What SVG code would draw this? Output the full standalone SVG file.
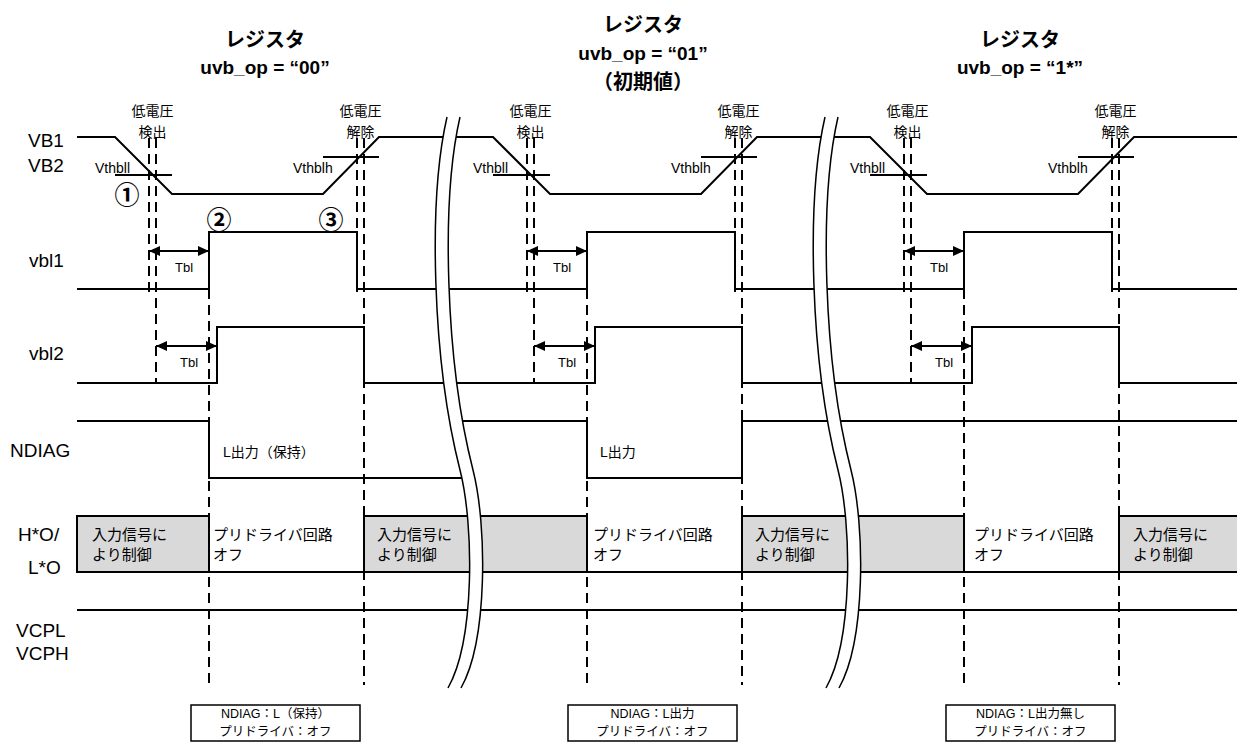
<svg xmlns="http://www.w3.org/2000/svg" width="1237" height="743" viewBox="0 0 1237 743">
<style>
.w{fill:none;stroke:#000;stroke-width:2}
.d{fill:none;stroke:#000;stroke-width:2;stroke-dasharray:10 6}
.g{fill:#d9d9d9;stroke:#000;stroke-width:2}
.t{font-family:"Liberation Sans","Noto Sans CJK JP",sans-serif;fill:#000}
.lab{font-size:19px}
.ttl{font-size:19px;font-weight:bold;text-anchor:middle}
.ev{font-size:14px;text-anchor:middle}
.vt{font-size:14px}
.tb{font-size:13px;text-anchor:middle}
.tx{font-size:15px}
.bx{font-size:12.5px;text-anchor:middle}
.cn{font-family:"Noto Sans CJK JP",sans-serif;font-size:25px;font-weight:bold;text-anchor:middle}
.brk{fill:#fff;stroke:none}
.bc{fill:none;stroke:#000;stroke-width:1.5}
</style>
<defs>
<marker id="ah" markerUnits="userSpaceOnUse" markerWidth="11" markerHeight="10" refX="11" refY="5" orient="auto-start-reverse" viewBox="0 0 11 10">
<path d="M0,0 L11,5 L0,10 Z" fill="#000"/>
</marker>
<g id="dash">
<path class="d" d="M149,138 V297 M156,138 V383 M209,289 V685 M357,138 V297 M364,138 V685"/>
</g>
<g id="brk">
<path class="brk" d="M447,117 C428,200 432,360 460,470 C474,525 475,640 448,688 L461,688 C488,640 487,525 473,470 C445,360 441,200 460,117 Z"/>
<path class="bc" d="M447,117 C428,200 432,360 460,470 C474,525 475,640 448,688"/>
<path class="bc" d="M460,117 C441,200 445,360 473,470 C487,525 488,640 461,688"/>
</g>
</defs>

<g id="signal-labels" class="t lab">
<text x="28" y="147">VB1</text>
<text x="28" y="172">VB2</text>
<text x="29" y="267">vbl1</text>
<text x="29" y="360">vbl2</text>
<text x="10" y="457">NDIAG</text>
<text x="18" y="541">H*O/</text>
<text x="28" y="574">L*O</text>
<text x="16" y="637">VCPL</text>
<text x="16" y="660">VCPH</text>
</g>

<g id="titles" class="t ttl">
<text x="265" y="47" font-size="20">レジスタ</text>
<text x="265" y="74">uvb_op = “00”</text>
<text x="643" y="32" font-size="20">レジスタ</text>
<text x="643" y="60">uvb_op = “01”</text>
<text x="643" y="89" font-size="20">（初期値）</text>
<text x="1020" y="47" font-size="20">レジスタ</text>
<text x="1020" y="74">uvb_op = “1*”</text>
</g>

<g id="gray-boxes">
<rect class="g" x="77" y="516" width="132" height="56"/>
<rect class="g" x="364" y="516" width="223" height="56"/>
<rect class="g" x="742" y="516" width="222" height="56"/>
<rect class="g" x="1119" y="516" width="122" height="56"/>
</g>

<g id="waveforms">
<path class="w" d="M77,137 H115 L172,194 H323 L379,137 H493 L550,194 H701 L757,137 H870 L927,194 H1078 L1134,137 H1237"/>
<path class="w" d="M115,175 H172 M323,157 H379 M493,175 H550 M701,157 H757 M870,175 H927 M1078,157 H1134"/>
<path class="w" d="M77,289 H209 V232 H357 V289 H587 V232 H735 V289 H964 V232 H1112 V289 H1237"/>
<path class="w" d="M77,383 H217 V327 H364 V383 H595 V327 H742 V383 H972 V327 H1119 V383 H1237"/>
<path class="w" d="M77,421 H209 V478 H468"/>
<path class="w" d="M458,421 H587 V478 H742 V421 H1237"/>
<path class="w" d="M77,572 H1237"/>
<path class="w" d="M77,610 H1237"/>
</g>

<g id="markers">
<use href="#dash"/>
<use href="#dash" transform="translate(378,0)"/>
<use href="#dash" transform="translate(755,0)"/>
</g>

<g id="connectors">
<path class="w" d="M149,251 H209" marker-start="url(#ah)" marker-end="url(#ah)"/>
<path class="w" d="M156,346 H217" marker-start="url(#ah)" marker-end="url(#ah)"/>
<path class="w" d="M527,251 H587" marker-start="url(#ah)" marker-end="url(#ah)"/>
<path class="w" d="M534,346 H595" marker-start="url(#ah)" marker-end="url(#ah)"/>
<path class="w" d="M904,251 H964" marker-start="url(#ah)" marker-end="url(#ah)"/>
<path class="w" d="M911,346 H972" marker-start="url(#ah)" marker-end="url(#ah)"/>
</g>

<g id="breaks">
<use href="#brk"/>
<use href="#brk" transform="translate(378,0)"/>
</g>

<g id="event-labels" class="t ev">
<text x="152.5" y="116">低電圧</text><text x="152.5" y="137">検出</text>
<text x="360.5" y="116">低電圧</text><text x="360.5" y="137">解除</text>
<text x="530.5" y="116">低電圧</text><text x="530.5" y="137">検出</text>
<text x="738.5" y="116">低電圧</text><text x="738.5" y="137">解除</text>
<text x="907.5" y="116">低電圧</text><text x="907.5" y="137">検出</text>
<text x="1115.5" y="116">低電圧</text><text x="1115.5" y="137">解除</text>
</g>

<g id="threshold-labels" class="t vt">
<text x="95" y="173">Vthbll</text>
<text x="293" y="173">Vthblh</text>
<text x="473" y="173">Vthbll</text>
<text x="671" y="173">Vthblh</text>
<text x="850" y="173">Vthbll</text>
<text x="1048" y="173">Vthblh</text>
</g>

<g id="tbl-labels" class="t tb">
<text x="184" y="272">Tbl</text>
<text x="189" y="367">Tbl</text>
<text x="562" y="272">Tbl</text>
<text x="567" y="367">Tbl</text>
<text x="939" y="272">Tbl</text>
<text x="944" y="367">Tbl</text>
</g>

<g id="step-numbers" class="cn">
<text x="127" y="204">①</text>
<text x="219" y="229">②</text>
<text x="331" y="229">③</text>
</g>

<g id="ndiag-labels" class="t vt">
<text x="223" y="457">L出力（保持）</text>
<text x="600" y="457">L出力</text>
</g>

<g id="output-labels" class="t tx">
<text x="92" y="540">入力信号に</text><text x="92" y="560">より制御</text>
<text x="213" y="540">プリドライバ回路</text><text x="213" y="560">オフ</text>
<text x="377" y="540">入力信号に</text><text x="377" y="560">より制御</text>
<text x="593" y="540">プリドライバ回路</text><text x="593" y="560">オフ</text>
<text x="755" y="540">入力信号に</text><text x="755" y="560">より制御</text>
<text x="974" y="540">プリドライバ回路</text><text x="974" y="560">オフ</text>
<text x="1133" y="540">入力信号に</text><text x="1133" y="560">より制御</text>
</g>

<g id="summary-1">
<rect x="191" y="705" width="169" height="36" fill="#fff" stroke="#000" stroke-width="1.5"/>
<text class="t bx" x="275.5" y="718">NDIAG：L（保持）</text>
<text class="t bx" x="275.5" y="736">プリドライバ：オフ</text>
</g>
<g id="summary-2">
<rect x="568" y="705" width="169" height="36" fill="#fff" stroke="#000" stroke-width="1.5"/>
<text class="t bx" x="652.5" y="718">NDIAG：L出力</text>
<text class="t bx" x="652.5" y="736">プリドライバ：オフ</text>
</g>
<g id="summary-3">
<rect x="946" y="705" width="169" height="36" fill="#fff" stroke="#000" stroke-width="1.5"/>
<text class="t bx" x="1030.5" y="718">NDIAG：L出力無し</text>
<text class="t bx" x="1030.5" y="736">プリドライバ：オフ</text>
</g>
</svg>
